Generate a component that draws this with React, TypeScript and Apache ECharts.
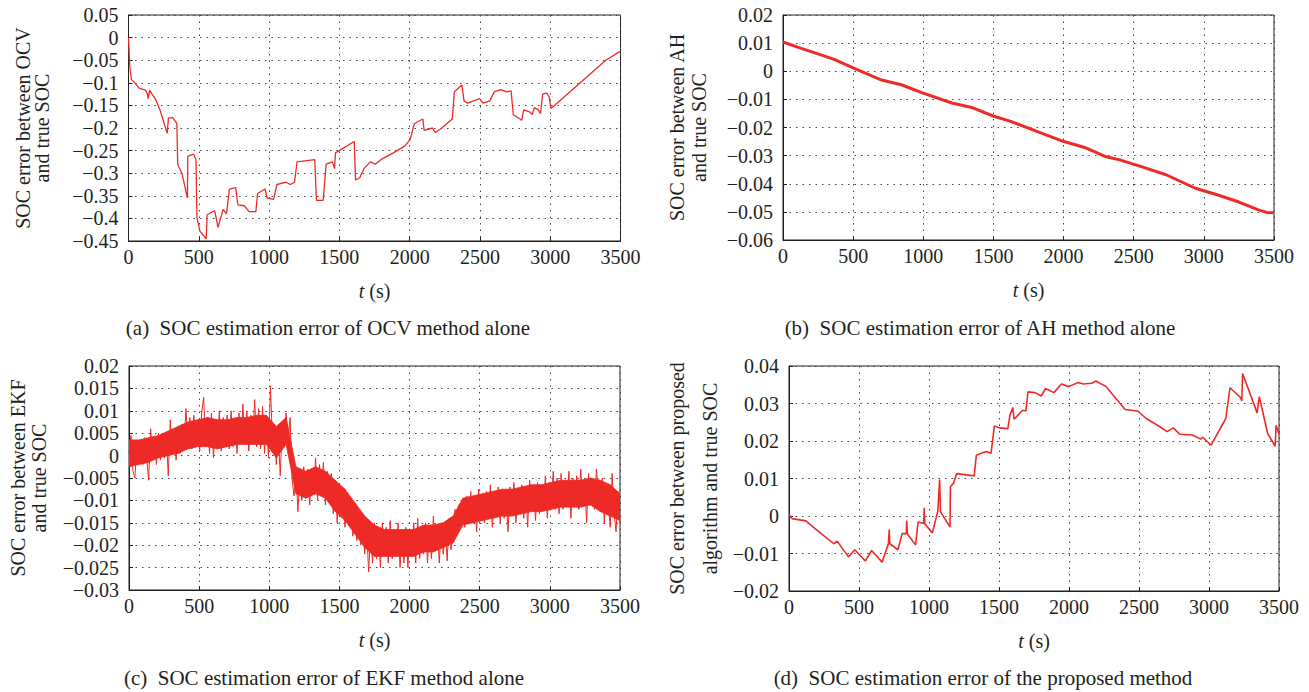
import React, { useEffect, useRef } from "react";
import * as echarts from "echarts";

// ---------- data ----------
const xTicks = [0, 500, 1000, 1500, 2000, 2500, 3000, 3500];

// (a) OCV alone: [t (s), error]
const ocvError: [number, number][] = [
  [0, 0.0], [9, -0.064], [21, -0.093], [45, -0.1], [75, -0.112], [120, -0.116],
  [135, -0.125], [140, -0.135], [150, -0.117], [195, -0.138], [224, -0.16],
  [254, -0.19], [275, -0.212], [284, -0.178], [314, -0.177], [344, -0.19],
  [350, -0.28], [380, -0.3], [419, -0.355], [422, -0.262], [464, -0.258],
  [480, -0.27], [487, -0.398], [508, -0.428], [553, -0.445], [559, -0.392],
  [613, -0.383], [637, -0.42], [673, -0.38], [697, -0.39], [718, -0.335],
  [763, -0.332], [778, -0.37], [823, -0.372], [858, -0.385], [906, -0.385],
  [918, -0.345], [972, -0.335], [987, -0.355], [1032, -0.358], [1056, -0.325],
  [1122, -0.32], [1151, -0.325], [1181, -0.32], [1199, -0.275], [1325, -0.27],
  [1337, -0.36], [1385, -0.36], [1406, -0.28], [1451, -0.275], [1466, -0.29],
  [1472, -0.255], [1606, -0.23], [1615, -0.315], [1645, -0.31], [1675, -0.29],
  [1720, -0.275], [1756, -0.28], [1795, -0.27], [1884, -0.255], [1965, -0.24],
  [2004, -0.225], [2034, -0.19], [2094, -0.18], [2103, -0.205], [2162, -0.2],
  [2183, -0.21], [2228, -0.2], [2303, -0.18], [2318, -0.12], [2372, -0.105],
  [2387, -0.14], [2410, -0.145], [2498, -0.135], [2521, -0.145], [2570, -0.14],
  [2602, -0.12], [2647, -0.115], [2692, -0.12], [2722, -0.118], [2737, -0.17],
  [2797, -0.183], [2812, -0.16], [2857, -0.165], [2872, -0.17], [2887, -0.155],
  [2915, -0.16], [2931, -0.168], [2946, -0.125], [2976, -0.123], [2991, -0.13],
  [3006, -0.157], [3395, -0.05], [3500, -0.03],
];

// (b) AH alone
const ahError: [number, number][] = [
  [0, 0.0104], [120, 0.0083], [250, 0.0062], [365, 0.0042], [500, 0.0012],
  [695, -0.003], [844, -0.0048], [994, -0.0077], [1204, -0.0113], [1353, -0.013],
  [1503, -0.016], [1623, -0.0178], [1800, -0.0212], [1997, -0.0249],
  [2162, -0.0273], [2296, -0.0303], [2401, -0.0315], [2560, -0.034],
  [2731, -0.0368], [2835, -0.0392], [2940, -0.0416], [3100, -0.044],
  [3250, -0.0465], [3389, -0.0493], [3449, -0.0502], [3500, -0.0503],
];

// (c) EKF alone, sampled every 14 s, values in thousandths
const ekfStep = 14;
const ekfErrorPermille = [
  0.5, 4.5, -3.5, -5, 3, -1.5, 2.5, -2, 4, -0.5,
  -5.5, 6, 0.5, 3.5, -2, 5, -1, 3, -0.5, 4.5,
  -4.5, 8, 1, 5.5, -1, 6.5, 0.5, 7, 2, 10.5,
  3, 8.5, 1.5, 9, 2.5, 7.5, 1, 9.5, 13, 3.5,
  8, 0.5, 9.5, -0.5, 7, 2, 10, 1, 8.5, 3,
  9, 1.5, 10, 2, 8, 0.5, 9.5, 3, 11.5, 2.5,
  10, 1, 9, 3.5, 12.5, 2, 10.5, 1.5, 11, 0.5,
  9, -0.5, 15.5, 4, 7, -2, 5, -4.5, 6, 2.5,
  9.5, 3, 8.5, -5, -9, -3, -12.5, -5, -10, -2.5,
  -9, -3, -11, -4, -8.5, -0.5, -10, -2, -7.5, -1.5,
  -11, -3.5, -9, -4, -13, -6, -15, -8, -12, -9,
  -16, -8.5, -14, -10, -18, -11, -19, -12, -20, -14,
  -22, -16, -26, -17, -24, -15, -23, -17, -25, -15,
  -22, -16, -24, -14.5, -23, -17, -21, -15, -25, -18,
  -24, -16, -25, -17, -22, -15, -24, -14, -23, -17,
  -22, -15, -24, -16, -23, -13.5, -21, -16, -24, -15,
  -22, -16, -23.5, -14, -21, -17, -12, -16, -11, -15,
  -10, -16, -9, -14, -8, -15, -10, -17, -7.5, -13,
  -9, -15, -8, -14, -6.5, -16, -9.5, -13, -7, -15,
  -8, -14, -9, -17, -7, -13, -6, -15, -8, -12.5,
  -6.5, -14, -7, -16, -5.5, -12, -8, -14.5, -6, -13,
  -7, -12, -4.5, -14, -6, -11, -3.5, -12, -5, -13,
  -4, -12, -6, -10.5, -3.5, -14, -5, -11, -4.5, -12,
  -3, -10, -5.5, -15, -4, -11, -6, -12, -3, -9,
  -12, -5, -15, -7, -10, -16, -4, -13, -17, -8,
  -15,
];
// solid core of the EKF noise band, every 70 s (thousandths)
const ekfBandStep = 70;
const ekfBandLowPermille = [
  -2.5, -2, -1.5, -0.5, 0, 0.5, 1.5, 2, 2, 1.5, 2, 2.5, 2.5, 2.5, 2.5, -0.5, 2.5, -8.5, -9.5, -8.5, -9.5,
  -12.5, -14.5, -17.5, -20.5, -22.5, -22.5, -22.5, -22.5, -22.5, -21.5, -21.5, -20.5, -19.5, -15.5, -15,
  -14.5, -14, -13.5, -13.5, -13, -12.5, -12.5, -12, -11.5, -11.5, -11.5, -11, -12.5, -13.5, -14.5,
];
const ekfBandHighPermille = [
  3.5, 3.5, 4, 4.5, 5.5, 6.5, 7.5, 8, 8.5, 8, 8, 8.5, 8.5, 9, 9, 6.5, 8.5, -2.5, -3.5, -2.5, -3.5,
  -5.5, -7.5, -10.5, -13.5, -15.5, -16.5, -16.5, -16.5, -16.5, -15.5, -15.5, -15, -13.5, -9.5, -9,
  -8.5, -8, -7.5, -7.5, -7, -6.5, -6.5, -6, -5.5, -5.5, -5.5, -5, -5.5, -6.5, -8.5,
];

// (d) proposed method
const proposedError: [number, number][] = [
  [0, 0.0005], [21, -0.0007], [120, -0.0013], [230, -0.0047], [320, -0.0074],
  [344, -0.0067], [425, -0.0109], [470, -0.009], [545, -0.012], [590, -0.0092],
  [665, -0.0123], [710, -0.0074], [716, -0.0036], [720, -0.0074], [778, -0.009],
  [808, -0.0047], [838, -0.0047], [841, -0.0012], [846, -0.0048], [904, -0.0077],
  [922, -0.0016], [962, -0.002], [966, 0.0022], [970, -0.0021], [1024, -0.0045],
  [1063, 0.0013], [1076, 0.0097], [1082, 0.0011], [1150, -0.0029], [1153, 0.0078],
  [1174, 0.0087], [1198, 0.0113], [1323, 0.0107], [1338, 0.0162], [1383, 0.0169],
  [1413, 0.0172], [1443, 0.0167], [1467, 0.024], [1503, 0.0235], [1563, 0.0233],
  [1578, 0.0269], [1599, 0.0289], [1608, 0.0258], [1668, 0.0282], [1692, 0.028],
  [1707, 0.0331], [1758, 0.0329], [1802, 0.032], [1832, 0.034], [1892, 0.0329],
  [1946, 0.0352], [1997, 0.0345], [2066, 0.0356], [2102, 0.0352], [2162, 0.0354],
  [2192, 0.036], [2266, 0.0345], [2311, 0.0324], [2401, 0.0284], [2491, 0.028],
  [2551, 0.026], [2641, 0.024], [2701, 0.0225], [2746, 0.0235], [2790, 0.0218],
  [2880, 0.0216], [2940, 0.0205], [2955, 0.021], [3015, 0.0189], [3120, 0.026],
  [3150, 0.0342], [3225, 0.0316], [3234, 0.0307], [3240, 0.038], [3344, 0.0275],
  [3359, 0.0318], [3419, 0.022], [3473, 0.0186], [3479, 0.0242], [3500, 0.0218],
];

const yLabelsA = ["SOC error between OCV", "and true SOC"];
const yLabelsB = ["SOC error between AH", "and true SOC"];
const yLabelsC = ["SOC error between EKF", "and true SOC"];
const yLabelsD = ["SOC error between proposed", "algorithm and true SOC"];
const captions = [
  "(a)  SOC estimation error of OCV method alone",
  "(b)  SOC estimation error of AH method alone",
  "(c)  SOC estimation error of EKF method alone",
  "(d)  SOC estimation error of the proposed method",
];

// ---------- layout / style ----------
const FONT = "Liberation Serif, DejaVu Serif, serif";
const INK = "#231f20";
const RED = "#ee2a27";

const ekfData: [number, number][] = ekfErrorPermille.map((v, i) => [i * ekfStep, v / 1000]);
// band segments: [t0, low0, high0, t1, low1, high1]
const ekfBandSegments: number[][] = ekfBandLowPermille.slice(0, -1).map((lo, i) => [
  i * ekfBandStep, lo / 1000, ekfBandHighPermille[i] / 1000,
  (i + 1) * ekfBandStep, ekfBandLowPermille[i + 1] / 1000, ekfBandHighPermille[i + 1] / 1000,
]);

const panels = [
  { left: 128.5, top: 15, width: 492, height: 226, min: -0.45, max: 0.05, interval: 0.05,
    yName: yLabelsA, lh: 19, gap: 77, data: ocvError, lw: 1.3,
    cap: captions[0], capX: 328, capY: 328 },
  { left: 783, top: 15, width: 491, height: 225, min: -0.06, max: 0.02, interval: 0.01,
    yName: yLabelsB, lh: 22, gap: 73, data: ahError, lw: 3,
    cap: captions[1], capX: 980, capY: 328 },
  { left: 129, top: 366, width: 491, height: 224, min: -0.03, max: 0.02, interval: 0.005,
    yName: yLabelsC, lh: 21, gap: 80, data: ekfData, lw: 1,
    cap: captions[2], capX: 324, capY: 678 },
  { left: 789, top: 366, width: 490, height: 225, min: -0.02, max: 0.04, interval: 0.01,
    yName: yLabelsD, lh: 33, gap: 63, data: proposedError, lw: 1.6,
    cap: captions[3], capX: 983, capY: 678 },
];

const fmtY = (v: number) => {
  const s = String(parseFloat(v.toFixed(4)));
  return s === "-0" ? "0" : s.replace("-", "\u2212");
};
const fmtX = (v: number) => String(Math.round(v));

export default function App() {
  const ref = useRef<HTMLDivElement>(null);

  useEffect(() => {
    if (!ref.current) return;
    const chart = echarts.init(ref.current, undefined, { renderer: "svg" });

    const splitLine = {
      show: true,
      lineStyle: { color: "#444", type: [1.5, 5] as number[], width: 1 },
    };

    const series: any[] = panels.map((p, i) => ({
      type: "line",
      xAxisIndex: i,
      yAxisIndex: i,
      data: p.data,
      showSymbol: false,
      symbol: "none",
      clip: true,
      lineStyle: { color: RED, width: p.lw },
      z: 4,
    }));
    // solid core of the EKF noise band
    series.push({
      type: "custom",
      xAxisIndex: 2,
      yAxisIndex: 2,
      data: ekfBandSegments,
      encode: { x: [0, 3], y: [1, 2, 4, 5] },
      clip: true,
      z: 3,
      renderItem: (params: any, api: any) => {
        const p0l = api.coord([api.value(0), api.value(1)]);
        const p0h = api.coord([api.value(0), api.value(2)]);
        const p1h = api.coord([api.value(3), api.value(5)]);
        const p1l = api.coord([api.value(3), api.value(4)]);
        return {
          type: "polygon",
          shape: { points: [p0l, p0h, p1h, p1l] },
          style: { fill: RED, stroke: RED, lineWidth: 0.8 },
        };
      },
    });

    const option: any = {
      animation: false,
      backgroundColor: "#ffffff",
      textStyle: { fontFamily: FONT, color: INK },
      grid: panels.map((p) => ({
        left: p.left, top: p.top, width: p.width, height: p.height,
        show: true, borderColor: INK, borderWidth: 1, backgroundColor: "transparent",
      })),
      xAxis: panels.map((p, i) => ({
        type: "value",
        gridIndex: i,
        min: xTicks[0],
        max: xTicks[xTicks.length - 1],
        interval: xTicks[1] - xTicks[0],
        axisLine: { show: true, onZero: false, lineStyle: { color: INK, width: 1 } },
        axisTick: { show: true, inside: true, length: 4, lineStyle: { color: INK } },
        axisLabel: { fontFamily: FONT, fontSize: 20, color: INK, margin: 6, formatter: fmtX },
        splitLine,
        name: "{i|t} (s)",
        nameLocation: "middle",
        nameGap: 40,
        nameTextStyle: {
          fontFamily: FONT, fontSize: 20, color: INK,
          rich: { i: { fontFamily: FONT, fontSize: 20, fontStyle: "italic", color: INK } },
        },
      })),
      yAxis: panels.map((p, i) => ({
        type: "value",
        gridIndex: i,
        min: p.min,
        max: p.max,
        interval: p.interval,
        axisLine: { show: true, onZero: false, lineStyle: { color: INK, width: 1 } },
        axisTick: { show: true, inside: true, length: 4, lineStyle: { color: INK } },
        axisLabel: { fontFamily: FONT, fontSize: 20, color: INK, margin: 10, formatter: fmtY },
        splitLine,
        name: p.yName.join("\n"),
        nameLocation: "middle",
        nameRotate: 90,
        nameGap: p.gap,
        nameTextStyle: { fontFamily: FONT, fontSize: 20, color: INK, lineHeight: p.lh },
      })),
      series,
      graphic: panels.map((p) => ({
        type: "text",
        x: p.capX,
        y: p.capY,
        style: {
          text: p.cap,
          fill: INK,
          fontFamily: FONT,
          fontSize: 21,
          textAlign: "center",
          textVerticalAlign: "middle",
          align: "center",
          verticalAlign: "middle",
        },
      })),
    };

    chart.setOption(option);
    return () => chart.dispose();
  }, []);

  return (
    <div
      ref={ref}
      style={{ position: "fixed", left: 0, top: 0, width: 1309, height: 692, background: "#fff" }}
    />
  );
}
